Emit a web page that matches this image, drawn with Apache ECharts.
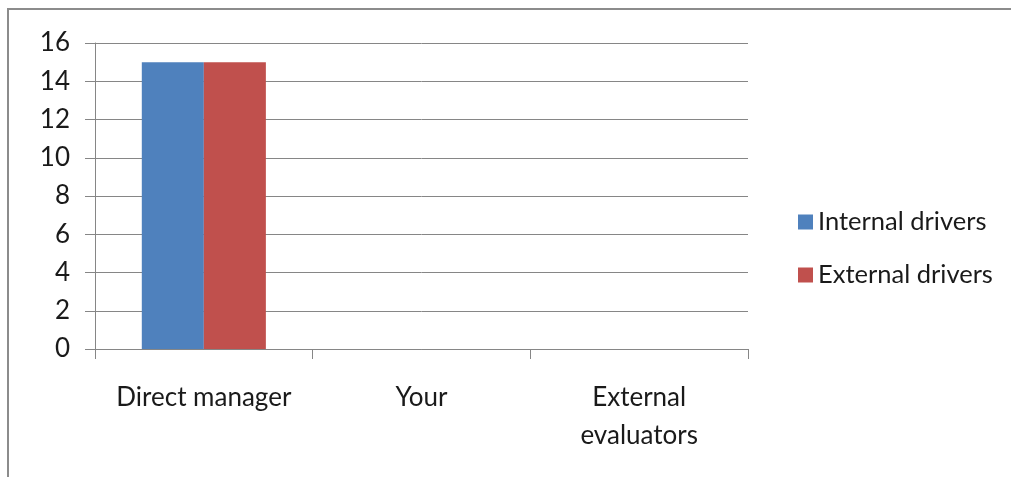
<!DOCTYPE html>
<html>
<head>
<meta charset="utf-8">
<script src="https://cdn.jsdelivr.net/npm/echarts@6/dist/echarts.min.js"></script>
<style>
  html, body { margin: 0; padding: 0; background: #fff; }
  #chart { width: 1011px; height: 477px; }
</style>
</head>
<body>
<div id="chart"></div>
<script>
// data
var categories = ["Direct manager", "Your", "External\nevaluators"];
var internalDrivers = [15, 0, 0];
var externalDrivers = [15, 0, 0];
var yTicks = { min: 0, max: 16, interval: 2 };

var font = "Lato";
var gridColor = "#868686";

var chart = echarts.init(document.getElementById("chart"));
chart.setOption({
  animation: false,
  backgroundColor: "#fff",
  textStyle: { fontFamily: font },
  graphic: [{
    type: "rect",
    shape: { x: 8, y: 9, width: 1100, height: 600 },
    style: { fill: "none", stroke: "#8c8c8c", lineWidth: 2 },
    silent: true
  }],
  grid: { left: 95, right: 263, top: 43, bottom: 128 },
  legend: {
    orient: "vertical",
    left: 793,
    top: 204,
    itemWidth: 15,
    itemHeight: 15,
    itemGap: 27,
    icon: "rect",
    textStyle: { fontFamily: font, fontSize: 25.5, color: "#1a1a1a", padding: [0, 0, 0, 0] },
    data: ["Internal drivers", "External drivers"]
  },
  xAxis: {
    type: "category",
    data: categories,
    axisLine: { lineStyle: { color: gridColor, width: 1 } },
    axisTick: { show: true, interval: 0, length: 10, lineStyle: { color: gridColor } },
    axisLabel: {
      interval: 0, margin: 30, fontFamily: font, fontSize: 26, color: "#1a1a1a",
      lineHeight: 38
    }
  },
  yAxis: {
    type: "value",
    min: yTicks.min,
    max: yTicks.max,
    interval: yTicks.interval,
    axisLine: { show: true, lineStyle: { color: gridColor, width: 1 } },
    axisTick: { show: true, length: 10, lineStyle: { color: gridColor } },
    axisLabel: { margin: 25, fontFamily: font, fontSize: 26, color: "#1a1a1a" },
    splitLine: { lineStyle: { color: gridColor, width: 1 } }
  },
  series: [
    {
      name: "Internal drivers",
      type: "bar",
      data: internalDrivers,
      itemStyle: { color: "#4F81BD" },
      barGap: "0%",
      barCategoryGap: "43%"
    },
    {
      name: "External drivers",
      type: "bar",
      data: externalDrivers,
      itemStyle: { color: "#C0504D" },
      barGap: "0%",
      barCategoryGap: "43%"
    }
  ]
});
</script>
</body>
</html>
